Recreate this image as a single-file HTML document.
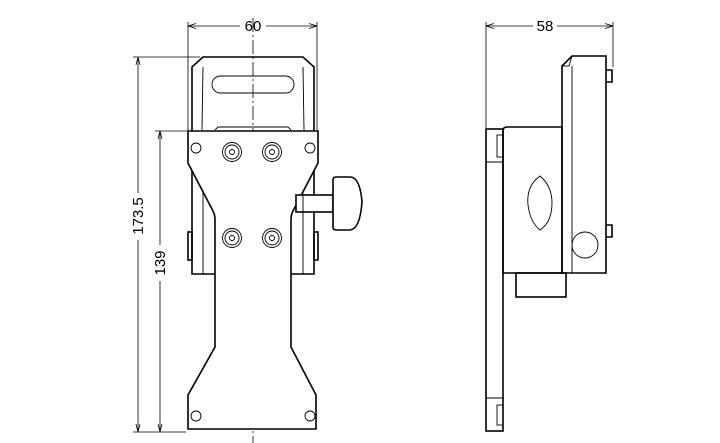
<!DOCTYPE html>
<html><head><style>body{margin:0;background:#fff}svg{display:block}</style></head><body>
<svg width="720" height="443" viewBox="0 0 720 443" xmlns="http://www.w3.org/2000/svg" font-family="Liberation Sans, sans-serif">
<g fill="none" stroke="#000">
<g stroke-width="0.8">
<line x1="188" y1="22" x2="188" y2="130"/><line x1="317" y1="22" x2="317" y2="130"/>
<line x1="188" y1="26" x2="240" y2="26"/><line x1="266" y1="26" x2="317" y2="26"/>
<path d="M188 26l8-2.5M188 26l8 2.5M317 26l-8-2.5M317 26l-8 2.5"/>
<line x1="133" y1="57" x2="200" y2="57"/><line x1="133" y1="432" x2="186" y2="432"/>
<line x1="138" y1="57" x2="138" y2="193"/><line x1="138" y1="240" x2="138" y2="432"/>
<path d="M138 57l-2 8M138 57l2 8M138 432l-2-8M138 432l2-8"/>
<line x1="155" y1="131" x2="188" y2="131"/>
<line x1="160" y1="131" x2="160" y2="245"/><line x1="160" y1="281" x2="160" y2="432"/>
<path d="M160 131l-2 8M160 131l2 8M160 432l-2-8M160 432l2-8"/>
<line x1="253" y1="18" x2="253" y2="443" stroke-dasharray="14 3 2 3"/>
<line x1="486" y1="22" x2="486" y2="128"/><line x1="613" y1="22" x2="613" y2="67"/>
<line x1="486" y1="26" x2="533" y2="26"/><line x1="557" y1="26" x2="613" y2="26"/>
<path d="M486 26l8-2.5M486 26l8 2.5M613 26l-8-2.5M613 26l-8 2.5"/>
</g>
<g stroke-width="1.6">
<path d="M192 130V67l11-10h100l11 10v63"/>
<path d="M192 130v144h23M314 130v144h-23"/>
<path d="M188 131h130v32l-25 48q-2 4-2 8v128l25 48v34H188v-34l27-48V219q0-4-2-8l-25-48z" fill="#fff"/>
<rect x="188" y="232" width="4" height="28"/><rect x="314" y="232" width="4" height="28"/>
<rect x="296" y="195" width="37" height="17" fill="#fff"/>
<path d="M336 177h14q10 0 12 25q-2 27-12 28h-14q-3 0-3-3v-47q0-3 3-3z" fill="#fff"/>
</g>
<g stroke-width="0.9">
<path d="M203 67l-1 63M303 67l1 63"/>
<rect x="212" y="76" width="82" height="17" rx="8.5"/>
<path d="M215 130l3-3h70l3 3"/>
<path d="M203 190v84M303 190v84"/>
<circle cx="196" cy="148" r="5"/><circle cx="310" cy="148" r="5"/>
<circle cx="196" cy="416" r="5"/><circle cx="310" cy="416" r="5"/>
<g id="s"><circle cx="232" cy="152" r="9.5"/><circle cx="232" cy="152" r="7"/><circle cx="232" cy="152" r="2.5"/></g>
<use href="#s" x="40"/><use href="#s" y="86"/><use href="#s" x="40" y="86"/>
</g>
<g stroke-width="1.6">
<rect x="486" y="129" width="17" height="302"/>
<path d="M503 131q0-4 4-4h55v146h-59z"/>
<path d="M562 273V66l10-10h34v217z"/>
<rect x="516" y="273" width="50" height="24"/>
<path d="M606 70h6v12h-6M606 225h6v12h-6"/>
</g>
<g stroke-width="0.9">
<line x1="572" y1="56" x2="569" y2="66"/><line x1="562" y1="66" x2="569" y2="66"/>
<line x1="572" y1="66" x2="572" y2="273"/>
<line x1="486" y1="162" x2="503" y2="162"/><line x1="486" y1="398" x2="503" y2="398"/>
<rect x="497" y="135" width="6" height="22"/><rect x="497" y="405" width="6" height="20"/>
<path d="M540 176Q526 186 528 205Q530 222 540 230Q552 222 552 203Q552 186 540 176z"/>
<circle cx="585" cy="245" r="13"/>
</g>
</g>
<g font-size="15" fill="#000" text-anchor="middle">
<text x="253" y="31">60</text>
<text x="545" y="31">58</text>
<text transform="translate(143,216) rotate(-90)">173.5</text>
<text transform="translate(165,263) rotate(-90)">139</text>
</g>
</svg>
</body></html>
